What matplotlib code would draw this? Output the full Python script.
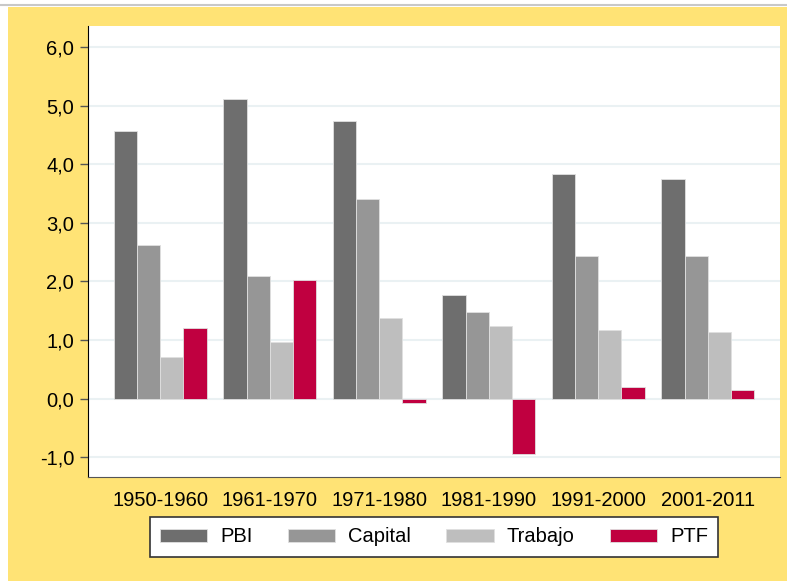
import numpy as np
import matplotlib
matplotlib.use("Agg")
from matplotlib import pyplot as plt
from matplotlib.patches import Rectangle
from matplotlib.ticker import FuncFormatter

periodos = ["1950-1960", "1961-1970", "1971-1980", "1981-1990", "1991-2000", "2001-2011"]
pbi = [4.57, 5.12, 4.74, 1.77, 3.83, 3.75]
capital = [2.62, 2.09, 3.40, 1.47, 2.43, 2.44]
trabajo = [0.71, 0.97, 1.38, 1.23, 1.17, 1.14]
ptf = [1.21, 2.03, -0.07, -0.95, 0.20, 0.15]

series = [("PBI", pbi, "#6e6e6e"), ("Capital", capital, "#969696"),
          ("Trabajo", trabajo, "#bebebe"), ("PTF", ptf, "#c00040")]

plt.rcParams['font.family'] = ['Liberation Sans', 'DejaVu Sans']

fig = plt.figure(figsize=(7.87, 5.81), dpi=100, facecolor="white")
# fondo amarillo y linea gris arriba
fig.patches.append(Rectangle((8 / 787, 0), 1, 574 / 581, transform=fig.transFigure,
                             facecolor="#ffe375", edgecolor="none", zorder=-10))
fig.lines.append(plt.Line2D([0, 1], [576 / 581, 576 / 581], transform=fig.transFigure,
                            color="#c8c8c8", lw=1.5, zorder=-10))

ax = fig.add_axes([88 / 787, 104 / 581, 692 / 787, 451 / 581])
ax.set_facecolor("white")

x = np.arange(len(periodos))
w = 0.212
for i, (nombre, vals, col) in enumerate(series):
    ax.bar(x + (i - 1.5) * w, vals, w, color=col, edgecolor="#e0e0e0", linewidth=0.6,
           label=nombre, zorder=3)

ax.set_xlim(-0.66, 5.66)
ax.set_ylim(-1.34, 6.36)
ax.set_yticks(np.arange(-1, 7, 1))
ax.yaxis.set_major_formatter(FuncFormatter(lambda v, p: f"{v:.1f}".replace(".", ",")))
ax.set_xticks(x)
ax.set_xticklabels(periodos)
ax.grid(axis="y", color="#eaf1f3", lw=1.5, zorder=0)
ax.tick_params(axis="y", labelsize=14.5, length=6, width=1, color="#555555", pad=4)
ax.tick_params(axis="x", labelsize=14.5, length=0, pad=10)

for s in ["top", "right"]:
    ax.spines[s].set_visible(False)
ax.spines["left"].set_color("black")
ax.spines["bottom"].set_color("#555555")

leg = fig.legend(loc="center", bbox_to_anchor=(434 / 787, 44 / 581), ncol=4,
                 fontsize=14.5, frameon=True, fancybox=False, edgecolor="#333333",
                 facecolor="white", framealpha=1,
                 handlelength=2.35, handleheight=0.6, handletextpad=0.65,
                 columnspacing=1.75, borderpad=0.5)
leg.get_frame().set_linewidth(1.2)

fig.savefig("out.png", dpi=100, facecolor=fig.get_facecolor())
